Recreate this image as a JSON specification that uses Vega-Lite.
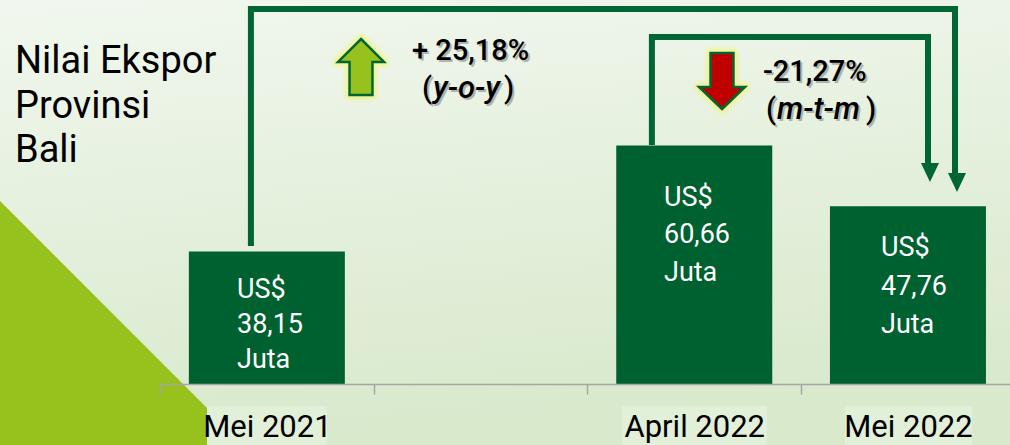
{"$schema":"https://vega.github.io/schema/vega-lite/v6.json","width":1010,"height":445,"padding":0,"autosize":{"type":"none"},"background":"#e6f0df","config":{"view":{"stroke":null},"font":"Roboto"},
"datasets":{
"bars":[{"month":"Mei 2021","value":38.15},{"month":"April 2022","value":60.66},{"month":"Mei 2022","value":47.76}],
"canvas":[{"u":-0.7477,"u2":3.972,"v":91.529,"v2":-2.951}],
"triangle":[{"u":-0.7477,"v":48.854},{"u":0.3925,"v":-2.951}],
"labelBacks":[{"u":0.2196,"u2":0.7804,"v":5.329,"v2":-2.951},{"u":2.1589,"u2":2.8364,"v":5.329,"v2":-2.951},{"u":3.2009,"u2":3.7944,"v":5.329,"v2":-2.951}],
"connectors":[{"s":"y-o-y","o":1,"u":0.4248,"v":39.299},{"s":"y-o-y","o":2,"u":0.4248,"v":89.618},{"s":"y-o-y","o":3,"u":3.715,"v":89.618},{"s":"y-o-y","o":4,"u":3.715,"v":54.374},{"s":"m-t-m","o":1,"u":2.2986,"v":60.743},{"s":"m-t-m","o":2,"u":2.2986,"v":83.673},{"s":"m-t-m","o":3,"u":3.5888,"v":83.673},{"s":"m-t-m","o":4,"u":3.5888,"v":56.497}],
"heads":[{"u":3.7243,"v":52.781},{"u":3.5981,"v":54.904}],
"up":[{"u":0.9393,"v":77.304}],
"down":[{"u":2.6262,"v":74.331}],
"title":[{"t":"Nilai Ekspor","u":-0.6776,"v":76.03},{"t":"Provinsi","u":-0.6776,"v":66.58},{"t":"Bali","u":-0.6776,"v":57.03}],
"barText":[{"t":"US$","u":0.3598,"v":28.26},{"t":"38,15","u":0.3598,"v":20.83},{"t":"Juta","u":0.3598,"v":13.4},{"t":"US$","u":2.3551,"v":47.79},{"t":"60,66","u":2.3551,"v":39.94},{"t":"Juta","u":2.3551,"v":31.87},{"t":"US$","u":3.3692,"v":37.18},{"t":"47,76","u":3.3692,"v":28.9},{"t":"Juta","u":3.3692,"v":20.83}],
"note":[{"t":"+ 25,18%","u":1.1776,"v":78.79},{"t":"(","u":1.2243,"v":70.72},{"t":")","u":1.6075,"v":70.72},{"t":"-21,27%","u":2.8178,"v":74.33},{"t":"(","u":2.8318,"v":66.26},{"t":")","u":3.2991,"v":66.26}],
"noteItalic":[{"t":"y-o-y","u":1.2757,"v":70.72},{"t":"m-t-m","u":2.8832,"v":66.26}]
},
"resolve":{"scale":{"x":"independent"}},
"layer":[
{"encoding":{"x":{"field":"u","type":"quantitative","axis":null,"scale":{"domain":[-0.7477,3.972],"nice":false,"zero":false}},"y":{"field":"v","type":"quantitative","axis":null,"scale":{"domain":[-2.951,91.529],"nice":false,"zero":false}}},
"layer":[
{"data":{"name":"canvas"},"mark":{"type":"rect","fill":{"gradient":"linear","x1":0,"y1":0,"x2":0.2,"y2":1,"stops":[{"offset":0,"color":"#f1f7ee"},{"offset":1,"color":"#d8e9cc"}]}},"encoding":{"x2":{"field":"u2"},"y2":{"field":"v2"}}},
{"data":{"name":"triangle"},"mark":{"type":"area","color":"#97c11c","interpolate":"linear"},"encoding":{"y2":{"datum":-2.951}}},
{"data":{"name":"labelBacks"},"mark":{"type":"rect","fill":"#e2efd9"},"encoding":{"x2":{"field":"u2"},"y2":{"field":"v2"}}}
]},
{"data":{"name":"bars"},"mark":{"type":"bar","fill":"#006130","width":{"band":0.73}},
"encoding":{"x":{"field":"month","type":"nominal","sort":null,"scale":{"domain":["Mei 2021"," ","April 2022","Mei 2022"],"range":[160,1014.8],"paddingInner":0,"paddingOuter":0},"axis":{"title":null,"orient":"bottom","offset":-61,"grid":false,"zindex":1,"domainColor":"#a6a6a6","domainWidth":1.5,"tickColor":"#a6a6a6","tickWidth":1.5,"tickSize":10,"tickBand":"extent","labelAngle":0,"labelBaseline":"alphabetic","labelPadding":42,"labelFont":"Roboto","labelFontSize":31,"labelFontWeight":400,"labelColor":"#000000","labelOverlap":false,"labelBound":false,"labelFlush":false}},
"y":{"field":"value","type":"quantitative","axis":null,"scale":{"domain":[-2.951,91.529],"nice":false,"zero":false}},"y2":{"datum":10}}},
{"encoding":{"x":{"field":"u","type":"quantitative","axis":null,"scale":{"domain":[-0.7477,3.972],"nice":false,"zero":false}},"y":{"field":"v","type":"quantitative","axis":null,"scale":{"domain":[-2.951,91.529],"nice":false,"zero":false}}},
"layer":[
{"data":{"name":"connectors"},"mark":{"type":"line","color":"#006633","strokeWidth":6,"strokeJoin":"miter","strokeCap":"butt","interpolate":"linear"},"encoding":{"detail":{"field":"s"},"order":{"field":"o"}}},
{"data":{"name":"heads"},"mark":{"type":"point","filled":true,"opacity":1,"fill":"#006633","strokeWidth":0,"size":361,"shape":"M-0.95,-1L0.95,-1L0,1Z"}},
{"data":{"name":"up"},"mark":{"type":"point","filled":true,"opacity":0.3,"fill":"#f3f590","stroke":"#f3f590","strokeWidth":13,"strokeJoin":"round","size":3136,"shape":"M0,-1L0.82,-0.18L0.41,-0.18L0.41,1L-0.41,1L-0.41,-0.18L-0.82,-0.18Z"}},
{"data":{"name":"up"},"mark":{"type":"point","filled":true,"opacity":0.7,"fill":"#f3f590","stroke":"#f3f590","strokeWidth":8,"strokeJoin":"round","size":3136,"shape":"M0,-1L0.82,-0.18L0.41,-0.18L0.41,1L-0.41,1L-0.41,-0.18L-0.82,-0.18Z"}},
{"data":{"name":"up"},"mark":{"type":"point","filled":true,"opacity":1,"fill":"#97c11c","stroke":"#006633","strokeWidth":2.5,"size":3136,"shape":"M0,-1L0.82,-0.18L0.41,-0.18L0.41,1L-0.41,1L-0.41,-0.18L-0.82,-0.18Z"}},
{"data":{"name":"down"},"mark":{"type":"point","filled":true,"opacity":0.3,"fill":"#f3f590","stroke":"#f3f590","strokeWidth":13,"strokeJoin":"round","size":3136,"shape":"M0,1L0.82,0.21L0.41,0.21L0.41,-1L-0.41,-1L-0.41,0.21L-0.82,0.21Z"}},
{"data":{"name":"down"},"mark":{"type":"point","filled":true,"opacity":0.7,"fill":"#f3f590","stroke":"#f3f590","strokeWidth":8,"strokeJoin":"round","size":3136,"shape":"M0,1L0.82,0.21L0.41,0.21L0.41,-1L-0.41,-1L-0.41,0.21L-0.82,0.21Z"}},
{"data":{"name":"down"},"mark":{"type":"point","filled":true,"opacity":1,"fill":"#c00000","stroke":"#006633","strokeWidth":2.5,"size":3136,"shape":"M0,1L0.82,0.21L0.41,0.21L0.41,-1L-0.41,-1L-0.41,0.21L-0.82,0.21Z"}},
{"data":{"name":"title"},"mark":{"type":"text","align":"left","baseline":"alphabetic","font":"Roboto","fontSize":38,"fill":"#000000"},"encoding":{"text":{"field":"t"}}},
{"data":{"name":"barText"},"mark":{"type":"text","align":"left","baseline":"alphabetic","font":"Roboto","fontSize":27,"fill":"#ffffff"},"encoding":{"text":{"field":"t"}}},
{"data":{"name":"note"},"mark":{"type":"text","align":"left","baseline":"alphabetic","font":"Roboto","fontSize":29,"fontWeight":500,"fill":"#8a8a8a","opacity":0.6,"dx":2,"dy":2},"encoding":{"text":{"field":"t"}}},
{"data":{"name":"noteItalic"},"mark":{"type":"text","align":"left","baseline":"alphabetic","font":"Roboto","fontSize":31,"fontWeight":500,"fontStyle":"italic","fill":"#8a8a8a","opacity":0.6,"dx":2,"dy":2},"encoding":{"text":{"field":"t"}}},
{"data":{"name":"note"},"mark":{"type":"text","align":"left","baseline":"alphabetic","font":"Roboto","fontSize":29,"fontWeight":500,"fill":"#000000"},"encoding":{"text":{"field":"t"}}},
{"data":{"name":"noteItalic"},"mark":{"type":"text","align":"left","baseline":"alphabetic","font":"Roboto","fontSize":31,"fontWeight":500,"fontStyle":"italic","fill":"#000000"},"encoding":{"text":{"field":"t"}}}
]}
]}
